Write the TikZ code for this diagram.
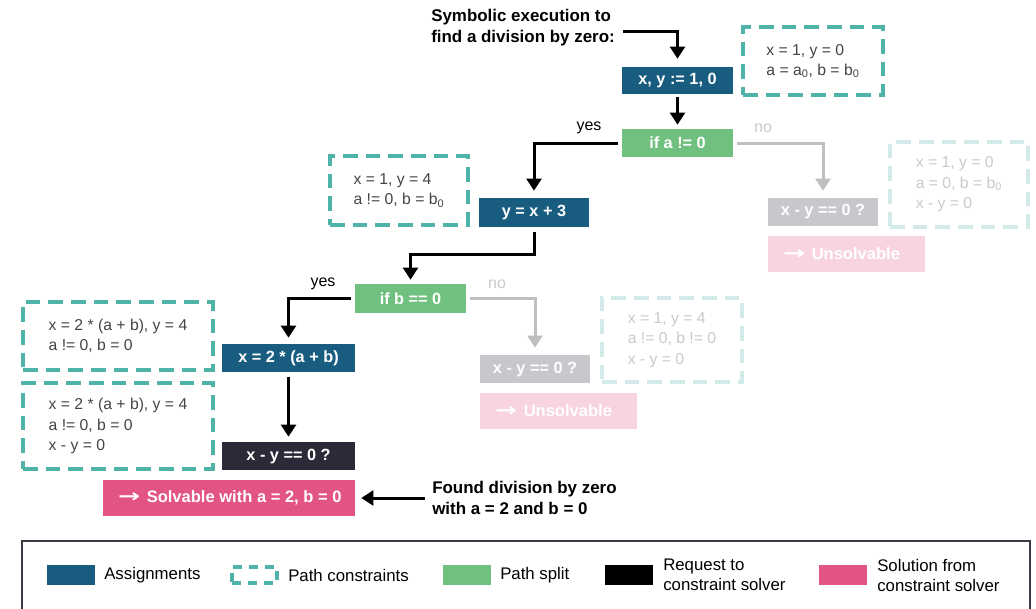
\documentclass[tikz,border=0pt]{standalone}
\usepackage{fontspec}
\usepackage{graphicx}
\setmainfont{Liberation Sans}
\newfontfamily\arrfont{DejaVu Sans}
\usetikzlibrary{arrows.meta,calc}
\definecolor{asgn}{HTML}{185D80}
\definecolor{split}{HTML}{70C080}
\definecolor{dashc}{HTML}{4FB3A7}
\definecolor{reqc}{HTML}{2A2A38}
\definecolor{solc}{HTML}{E25386}
\definecolor{fgray}{HTML}{C8C8CC}
\definecolor{fpink}{HTML}{F7D4DF}
\definecolor{fdash}{HTML}{D3EBE8}
\definecolor{ftext}{HTML}{C9C9C9}
\definecolor{farrow}{HTML}{BFBFBF}
\definecolor{ctext}{HTML}{444444}
\definecolor{frame}{HTML}{3A3A44}
\newcommand{\longarr}{{\arrfont\bfseries\scalebox{1.6}[1.1]{→}}\hspace{1.5pt}}
\begin{document}
\begin{tikzpicture}[x=0.75pt,y=-0.75pt,
  wh/.style 2 args={minimum width=#1*0.75pt, minimum height=#2*0.75pt},
  box/.style={inner sep=0pt, text=white, font=\bfseries\fontsize{12.2}{14}\selectfont},
  asg/.style={box, fill=asgn},
  spl/.style={box, fill=split},
  req/.style={box, fill=reqc},
  fad/.style={box, fill=fgray},
  res/.style={box, inner ysep=0pt, inner xsep=15*0.75pt, font=\bfseries\fontsize{12.4}{14}\selectfont},
  pc/.style={draw=dashc, line width=3pt, dash pattern=on 11pt off 6pt, align=left,
    text=ctext, inner sep=0pt, font=\fontsize{11.8}{15.3}\selectfont},
  fpc/.style={pc, draw=fdash, text=ftext},
  lbl/.style={inner sep=0pt, font=\fontsize{12}{14}\selectfont},
  bold/.style={inner sep=0pt, align=left, font=\bfseries\fontsize{12.7}{15.8}\selectfont},
  arr/.style={line width=2.25pt, -{Triangle[width=11pt,length=9pt]}},
  garr/.style={arr, draw=farrow},
  lg/.style={inner sep=0pt, anchor=west, align=left, font=\fontsize{12.6}{15}\selectfont}
]
\useasboundingbox (0,0) rectangle (1036,608);

% title and top node
\node[bold, anchor=west] (title) at (431,28) {Symbolic execution to\\find a division by zero:};
\coordinate (t0) at (623,31);
\node[asg, wh={111}{27}] (n1) at (677.5,80.5) {x, y := 1, 0};
\node[pc, wh={140}{68}] (c1) at (813,61) {x = 1, y = 0\\a = a\textsubscript{0}, b = b\textsubscript{0}};
\node[spl, wh={111}{28}] (n2) at (677.5,143) {if a != 0};

% second level
\node[asg, wh={110}{29}] (n3) at (534,212.5) {y = x + 3};
\node[pc, wh={138}{69}] (c2) at (399,190.5) {x = 1, y = 4\\a != 0, b = b\textsubscript{0}};
\node[fad, wh={110}{28}] (f1) at (823,212) {x - y == 0 ?};
\node[res, fill=fpink, wh={157}{36}] (u1) at (846.5,254) {\makebox[95.25pt][l]{\longarr\ Unsolvable}};
\node[fpc, wh={138}{85}] (c3) at (959,184.5) {x = 1, y = 0\\a = 0, b = b\textsubscript{0}\\x - y = 0};

% third level
\node[spl, wh={111}{29}] (n4) at (410.5,298.5) {if b == 0};
\node[fad, wh={110}{28}] (f2) at (535,369) {x - y == 0 ?};
\node[res, fill=fpink, wh={157}{36}] (u2) at (558.5,411) {\makebox[95.25pt][l]{\longarr\ Unsolvable}};
\node[fpc, wh={140}{84}] (c4) at (672,340) {x = 1, y = 4\\a != 0, b != 0\\x - y = 0};

% left column
\node[pc, wh={190}{68}] (c5) at (118,336) {x = 2 * (a + b), y = 4\\a != 0, b = 0};
\node[asg, wh={133}{28}] (n5) at (288.5,358) {x = 2 * (a + b)};
\node[pc, wh={190}{86}] (c6) at (118,426) {x = 2 * (a + b), y = 4\\a != 0, b = 0\\x - y = 0};
\node[req, wh={133}{28}] (n6) at (288.5,456) {x - y == 0 ?};
\node[res, fill=solc, wh={252}{36}] (sol) at (229,498) {\makebox[166.5pt][l]{\longarr\ Solvable with a = 2, b = 0}};
\node[bold, anchor=west] (found) at (432,498) {Found division by zero\\with a = 2 and b = 0};

% labels
\node[lbl] (yes1) at (589,128) {yes};
\node[lbl, text=ftext] (no1) at (763,128) {no};
\node[lbl] (yes2) at (323,284) {yes};
\node[lbl, text=ftext] (no2) at (497,284) {no};

% connectors
\draw[arr, shorten >=6pt] (t0) -| (n1.north);
\draw[arr, shorten <=2.25pt, shorten >=3pt] (n1.south) -- (n2.north);
\draw[arr, shorten <=3pt, shorten >=5.25pt] (n2.west) -| (n3.north);
\draw[garr, shorten <=3pt, shorten >=5.25pt] (n2.east) -| (f1.north);
\draw[arr, shorten <=3.75pt, shorten >=3pt] (n3.south) -- ++(0,27) -| (n4.north);
\draw[arr, shorten <=3pt, shorten >=4.5pt] (n4.west) -| (n5.north);
\draw[garr, shorten <=3pt, shorten >=5.25pt] (n4.east) -| (f2.north);
\draw[arr, shorten <=3.75pt, shorten >=3.75pt] (n5.south) -- (n6.north);
\draw[arr, shorten <=5.25pt, shorten >=4.5pt] (found.west) -- (sol.east);

% legend
\draw[draw=frame, line width=1.2pt] (22,541) rectangle (1030,630);
\node[fill=asgn, wh={48}{20}, inner sep=0pt] (la) at (71,575) {};
\node[lg] (lat) at (104,575) {Assignments};
\node[draw=dashc, line width=2.4pt, dash pattern=on 7pt off 5pt, wh={45}{16}, inner sep=0pt] (lp) at (254.5,575) {};
\node[lg] (lpt) at (288,575) {Path constraints};
\node[fill=split, wh={48}{20}, inner sep=0pt] (ls) at (467,575) {};
\node[lg] (lst) at (500,575) {Path split};
\node[fill=black, wh={48}{20}, inner sep=0pt] (lr) at (629,575) {};
\node[lg] (lrt) at (663,575) {Request to\\constraint solver};
\node[fill=solc, wh={48}{20}, inner sep=0pt] (lso) at (843,575) {};
\node[lg] (lsot) at (877,575) {Solution from\\constraint solver};
\end{tikzpicture}
\end{document}
